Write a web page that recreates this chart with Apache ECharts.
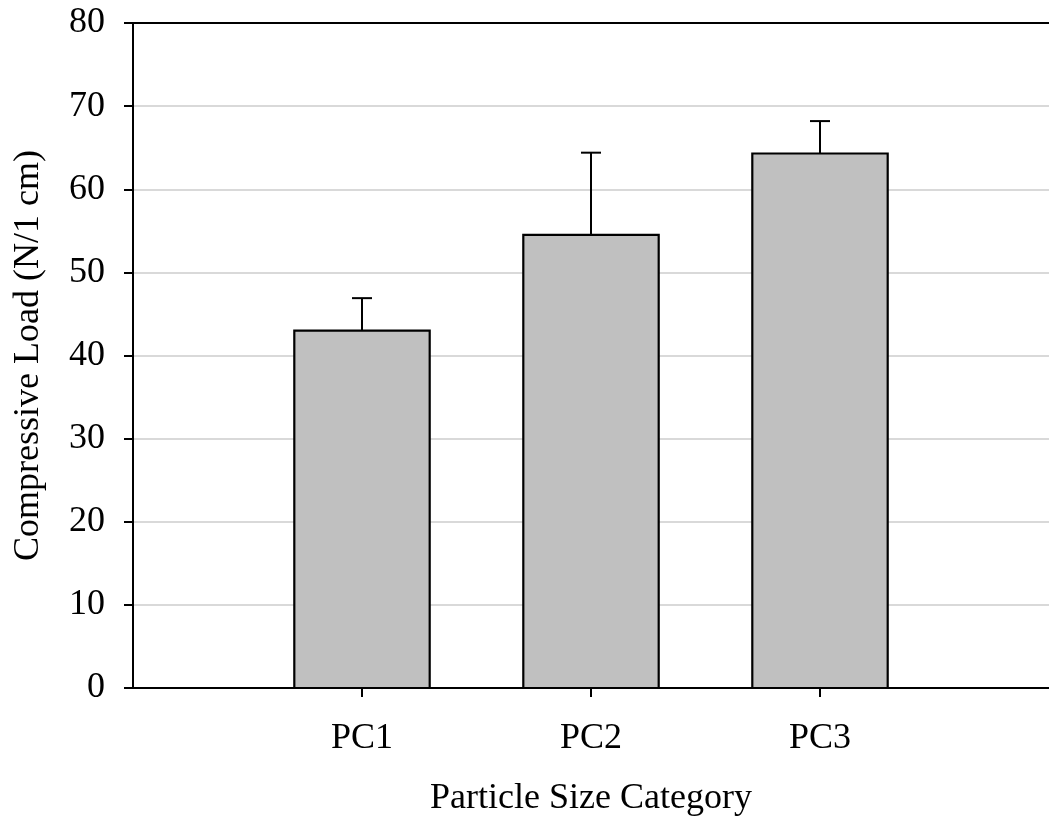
<!DOCTYPE html>
<html>
<head>
<meta charset="utf-8">
<script src="https://cdn.jsdelivr.net/npm/echarts@6/dist/echarts.min.js"></script>
<style>
  html, body { margin: 0; padding: 0; background: #fff; }
  #chart { width: 1049px; height: 822px; }
</style>
</head>
<body>
<div id="chart"></div>
<script>
// Particle size categories and their positions on the x scale
const categories = ['PC1', 'PC2', 'PC3'];
const positions = [1, 2, 3];
// Mean compressive load (N/1 cm) and upper error (SD)
const means = [43.0, 54.5, 64.3];
const errors = [3.9, 9.9, 3.9];
// Y tick range
const yMin = 0, yMax = 80, yStep = 10;

const FONT = "'Liberation Serif', 'Times New Roman', serif";
const barHalf = 0.3;

const barData = positions.map((p, i) => [p, means[i]]);
const errData = positions.map((p, i) => [p, means[i], means[i] + errors[i]]);

const chart = echarts.init(document.getElementById('chart'), null, { renderer: 'canvas' });

chart.setOption({
  backgroundColor: '#ffffff',
  animation: false,
  grid: { left: 133, top: 23, width: 920, height: 666, containLabel: false },
  xAxis: [{
    type: 'value',
    min: 0, max: 4, interval: 1,
    position: 'bottom',
    name: 'Particle Size Category',
    nameLocation: 'middle',
    nameGap: 93,
    nameTextStyle: { fontFamily: FONT, fontSize: 36, color: '#000' },
    axisLine: { show: true, onZero: false, lineStyle: { color: '#000', width: 2 } },
    axisTick: { show: true, inside: false, length: 9, customValues: positions,
                lineStyle: { color: '#000', width: 2 } },
    axisLabel: { show: true, customValues: positions, margin: 33,
                 fontFamily: FONT, fontSize: 36, color: '#000',
                 formatter: v => categories[positions.indexOf(v)] || '' },
    splitLine: { show: false }
  }, {
    type: 'value',
    min: 0, max: 4, interval: 1,
    position: 'top',
    axisLine: { show: true, onZero: false, lineStyle: { color: '#000', width: 2 } },
    axisTick: { show: false },
    axisLabel: { show: false },
    splitLine: { show: false }
  }],
  yAxis: {
    type: 'value',
    min: yMin, max: yMax, interval: yStep,
    name: 'Compressive Load (N/1 cm)',
    nameLocation: 'middle',
    nameGap: 86,
    nameRotate: 90,
    nameTextStyle: { fontFamily: FONT, fontSize: 36, color: '#000' },
    axisLine: { show: true, lineStyle: { color: '#000', width: 2 } },
    axisTick: { show: true, inside: false, length: 9, lineStyle: { color: '#000', width: 2 } },
    axisLabel: { margin: 28, fontFamily: FONT, fontSize: 36, color: '#000' },
    splitLine: { show: true, lineStyle: { color: '#cccccc', width: 1.5 } }
  },
  series: [{
    type: 'custom',
    name: 'mean',
    data: barData,
    encode: { x: 0, y: 1 },
    renderItem: function (params, api) {
      const x = api.value(0), y = api.value(1);
      const p0 = api.coord([x - barHalf, y]);
      const p1 = api.coord([x + barHalf, 0]);
      return {
        type: 'rect',
        shape: { x: p0[0] + 1, y: p0[1], width: p1[0] - p0[0] - 2, height: p1[1] - p0[1] },
        style: { fill: '#c0c0c0', stroke: '#000', lineWidth: 2.2 }
      };
    },
    z: 3
  }, {
    type: 'custom',
    name: 'error',
    data: errData,
    encode: { x: 0, y: [1, 2] },
    renderItem: function (params, api) {
      const x = api.value(0);
      const base = api.coord([x, api.value(1)]);
      const top = api.coord([x, api.value(2)]);
      const capHalf = 10;
      return {
        type: 'group',
        children: [{
          type: 'line',
          shape: { x1: base[0], y1: base[1], x2: top[0], y2: top[1] },
          style: { stroke: '#000', lineWidth: 2 }
        }, {
          type: 'line',
          shape: { x1: top[0] - capHalf, y1: top[1], x2: top[0] + capHalf, y2: top[1] },
          style: { stroke: '#000', lineWidth: 2 }
        }]
      };
    },
    z: 4
  }]
});
</script>
</body>
</html>
